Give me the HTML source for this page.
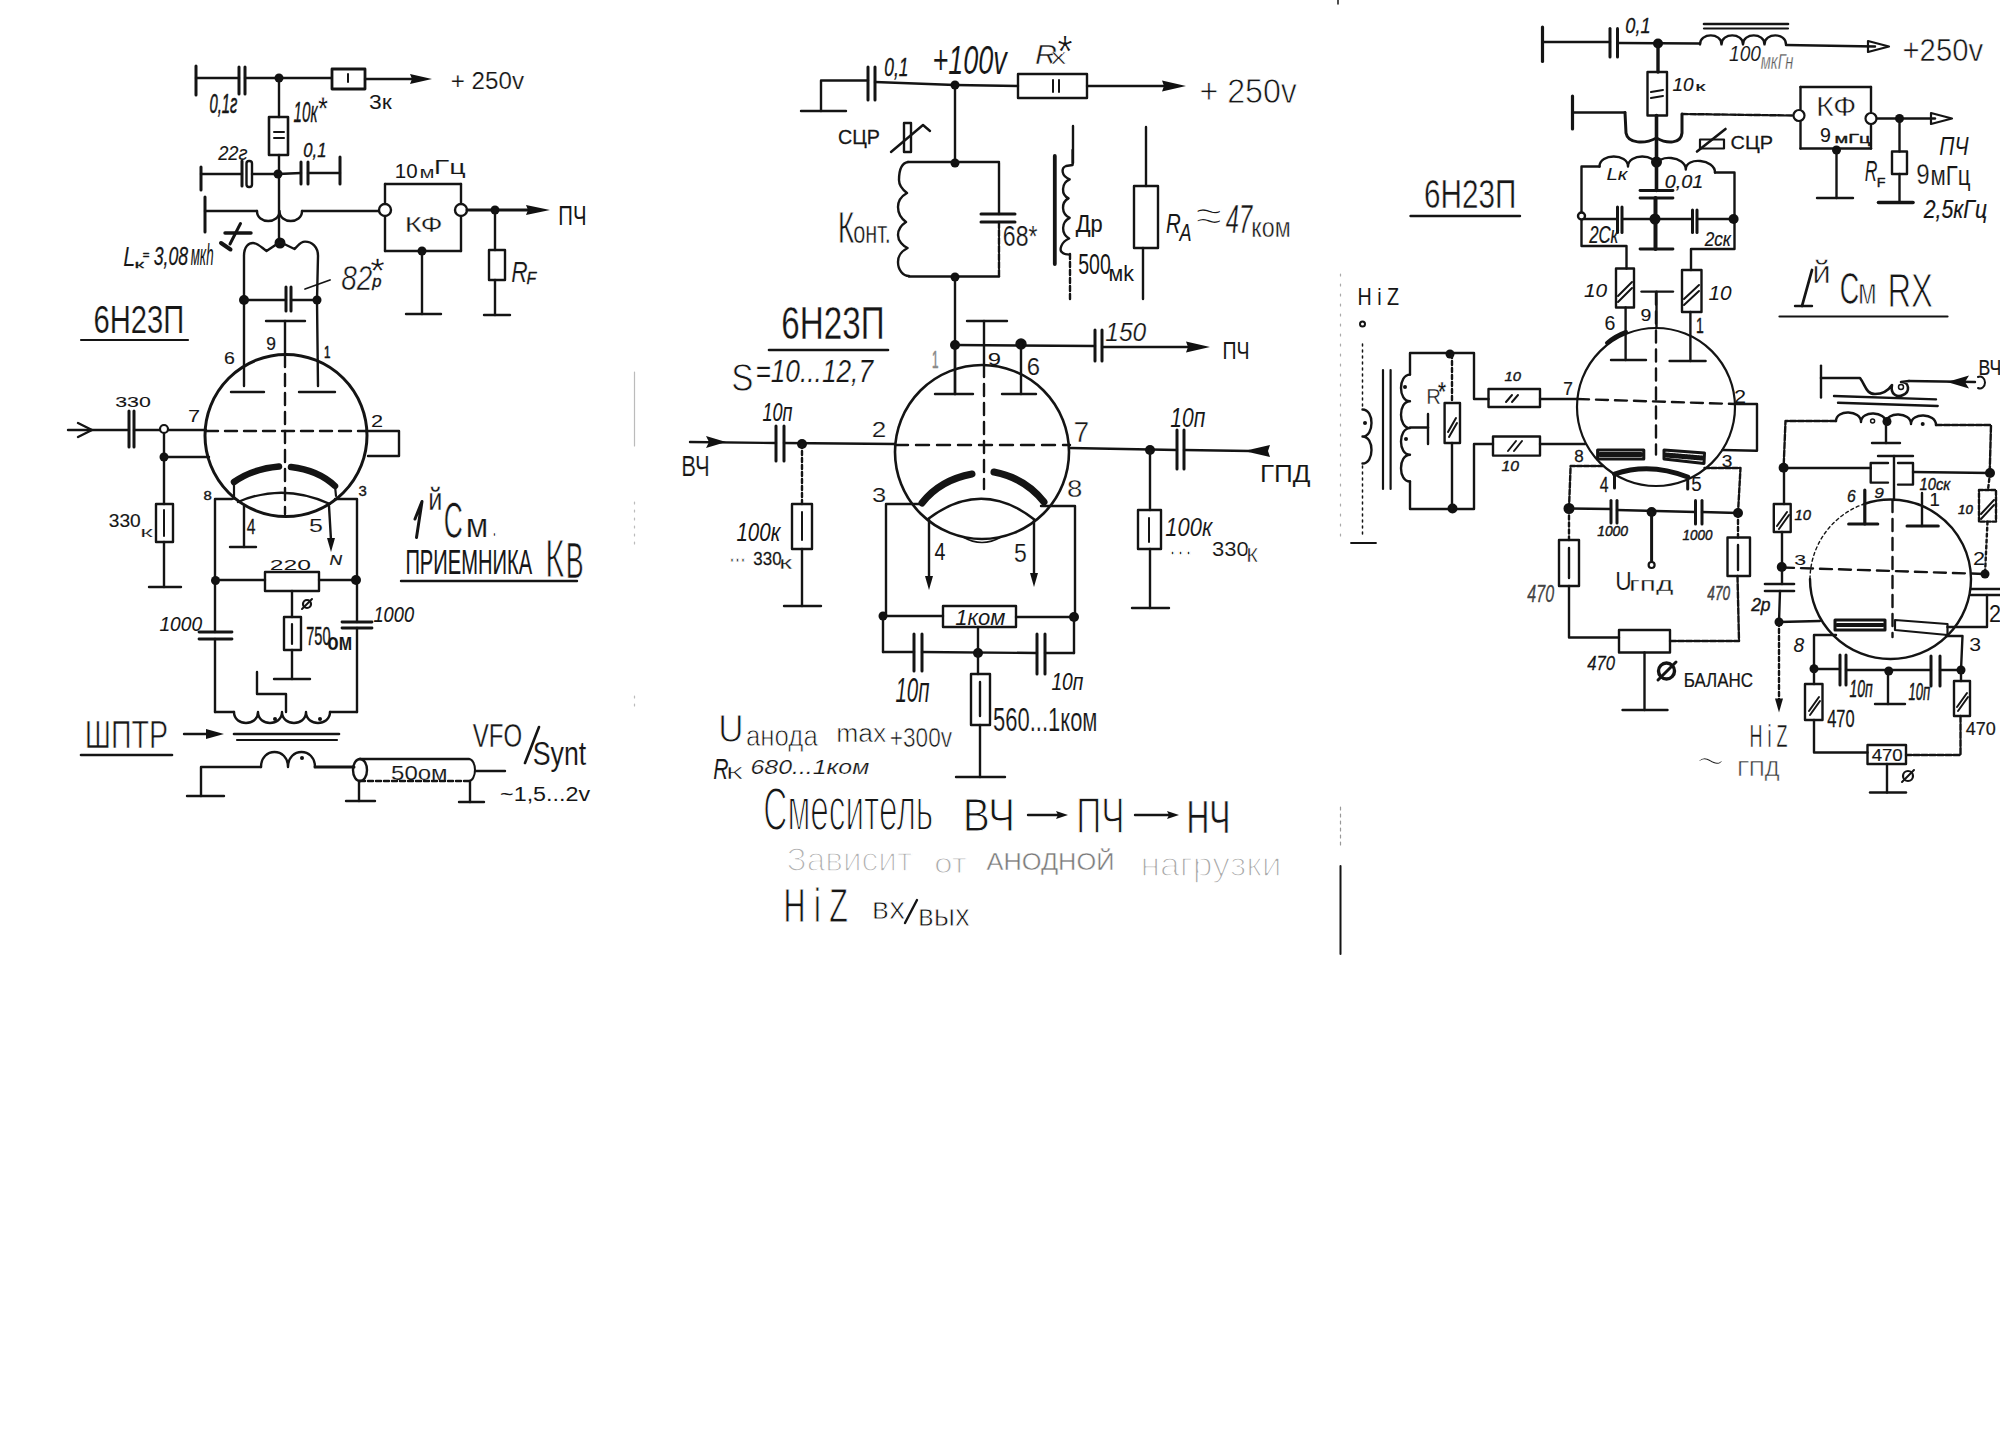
<!DOCTYPE html>
<html><head><meta charset="utf-8"><style>
html,body{margin:0;padding:0;background:#fff;overflow:hidden;width:2000px;height:1453px;}
svg{display:block;}
text{font-family:"Liberation Sans",sans-serif;fill:#161616;stroke:none;}
</style></head><body>
<svg width="2000" height="1453" viewBox="0 0 2000 1453">
<rect x="0" y="0" width="2000" height="1453" fill="#fff"/>
<g stroke="#141414" stroke-width="2.4" stroke-linecap="round" stroke-linejoin="round" fill="none">
<line x1="196" y1="66" x2="196" y2="95" stroke-width="3"/>
<line x1="196" y1="78" x2="239" y2="78"/>
<line x1="239" y1="67" x2="239" y2="94" stroke-width="3"/>
<line x1="245" y1="67" x2="245" y2="94" stroke-width="3"/>
<line x1="245" y1="78" x2="331" y2="78"/>
<circle cx="279" cy="78" r="4.5" fill="#111" stroke="none"/>
<rect x="332" y="69" width="33" height="20" fill="none" stroke-width="2.8"/>
<line x1="348" y1="74" x2="348" y2="82" stroke-width="2"/>
<line x1="365" y1="79" x2="415" y2="79"/>
<polygon points="410,74 432,79 410,84 412,79" fill="#111" stroke="none"/>
<text x="0" y="0" transform="matrix(0.2416 0 0 0.2324 450.79 89.27)" style="font-size:100px;fill:#161616;stroke:#fff;stroke-width:0.86;paint-order:fill;">+ 250v</text>
<text x="0" y="0" transform="matrix(0.1484 0 0 0.2805 209.41 112.63)" style="font-size:100px;font-style:italic;fill:#161616;stroke:#161616;stroke-width:2.15;">0,1г</text>
<text x="0" y="0" transform="matrix(0.2292 0 0 0.1972 369.08 108.80)" style="font-size:100px;fill:#161616;stroke:#fff;stroke-width:0.22;paint-order:fill;">3к</text>
<text x="0" y="0" transform="matrix(0.1519 0 0 0.2958 293.54 121.70)" style="font-size:100px;font-style:italic;fill:#161616;stroke:#161616;stroke-width:1.29;">10к</text>
<text x="0" y="0" transform="matrix(0.2564 0 0 0.3243 318.00 120.38)" style="font-size:100px;font-weight:bold;fill:#161616;stroke:#fff;stroke-width:2.92;paint-order:fill;">*</text>
<line x1="279" y1="78" x2="279" y2="117"/>
<rect x="269" y="117" width="19" height="38" fill="none" stroke-width="2.6"/>
<line x1="274" y1="132" x2="284" y2="132" stroke-width="2"/>
<line x1="274" y1="138" x2="284" y2="138" stroke-width="2"/>
<line x1="279" y1="155" x2="279" y2="242"/>
<circle cx="278" cy="174" r="4.5" fill="#111" stroke="none"/>
<line x1="201" y1="167" x2="201" y2="190" stroke-width="3"/>
<line x1="201" y1="174" x2="242" y2="174"/>
<line x1="242" y1="161" x2="242" y2="186" stroke-width="3"/>
<rect x="246.5" y="161" width="5.5" height="26" rx="2.5" fill="none" stroke-width="2.4"/>
<line x1="252" y1="174" x2="278" y2="174"/>
<line x1="278" y1="174" x2="301" y2="173"/>
<line x1="301" y1="162" x2="301" y2="184" stroke-width="3"/>
<line x1="308" y1="162" x2="308" y2="184" stroke-width="3"/>
<line x1="308" y1="173" x2="340" y2="173"/>
<line x1="340" y1="157" x2="340" y2="184" stroke-width="3"/>
<text x="0" y="0" transform="matrix(0.1824 0 0 0.2113 218.18 159.79)" style="font-size:100px;font-style:italic;fill:#161616;stroke:#161616;stroke-width:0.76;">22г</text>
<text x="0" y="0" transform="matrix(0.1667 0 0 0.2073 303.33 156.51)" style="font-size:100px;font-style:italic;fill:#161616;stroke:#161616;stroke-width:1.81;">0,1</text>
<line x1="205" y1="197" x2="205" y2="232" stroke-width="3"/>
<line x1="205" y1="211" x2="257" y2="211"/>
<path d="M257,211 C257.0,224.3 279.5,224.3 279.5,211.0 C279.5,224.3 302.0,224.3 302.0,211.0" fill="none"/>
<line x1="302" y1="211" x2="379" y2="211"/>
<line x1="385" y1="184" x2="461" y2="184"/>
<line x1="385" y1="184" x2="385" y2="204"/>
<line x1="385" y1="216" x2="385" y2="251"/>
<line x1="461" y1="184" x2="461" y2="204"/>
<line x1="461" y1="216" x2="461" y2="251"/>
<line x1="385" y1="251" x2="461" y2="251"/>
<circle cx="385" cy="210" r="6" fill="#fff"/>
<circle cx="461" cy="210" r="6" fill="#fff"/>
<text x="0" y="0" transform="matrix(0.2906 0 0 0.2174 404.68 232.00)" style="font-size:100px;fill:#161616;stroke:#fff;stroke-width:1.44;paint-order:fill;">КФ</text>
<text x="0" y="0" transform="matrix(0.2050 0 0 0.1972 394.86 177.80)" style="font-size:100px;fill:#161616;stroke:#161616;stroke-width:0.30;">10</text>
<text x="0" y="0" transform="matrix(0.2182 0 0 0.1698 419.47 178.00)" style="font-size:100px;fill:#161616;stroke:#fff;stroke-width:0.44;paint-order:fill;">м</text>
<text x="0" y="0" transform="matrix(0.2871 0 0 0.2079 433.70 174.34)" style="font-size:100px;fill:#161616;stroke:#fff;stroke-width:0.57;paint-order:fill;">Гц</text>
<circle cx="422" cy="251" r="4.5" fill="#111" stroke="none"/>
<line x1="422" y1="251" x2="422" y2="314"/>
<line x1="406" y1="314" x2="441" y2="314"/>
<line x1="467" y1="210" x2="530" y2="210" stroke-width="3"/>
<circle cx="495" cy="210" r="4.5" fill="#111" stroke="none"/>
<polygon points="526,205 550,210 526,215 528,210" fill="#111" stroke="none"/>
<text x="0" y="0" transform="matrix(0.2033 0 0 0.2754 558.37 225.00)" style="font-size:100px;fill:#161616;">ПЧ</text>
<line x1="495" y1="210" x2="495" y2="250"/>
<rect x="489" y="250" width="16" height="30" fill="none"/>
<line x1="495" y1="280" x2="495" y2="315"/>
<line x1="484" y1="315" x2="510" y2="315"/>
<text x="0" y="0" transform="matrix(0.2273 0 0 0.2899 511.32 282.00)" style="font-size:100px;font-style:italic;fill:#161616;stroke:#fff;stroke-width:0.73;paint-order:fill;">R</text>
<text x="0" y="0" transform="matrix(0.1587 0 0 0.1739 526.52 284.00)" style="font-size:100px;font-style:italic;fill:#161616;stroke:#161616;stroke-width:1.77;">F</text>
<circle cx="280" cy="243" r="5.5" fill="#111" stroke="none"/>
<path d="M244,300 L244,256 C244,246 249,243 253,243 C258,243 262,248 266.5,251 L280,242 L294.5,249 C298,246 300,241.6 305,241.6 C312,241.6 318,247 318,256 L317,300" fill="none"/>
<line x1="244" y1="300" x2="244" y2="386"/>
<line x1="317" y1="300" x2="318" y2="386"/>
<circle cx="244" cy="300" r="5" fill="#111" stroke="none"/>
<circle cx="317" cy="300" r="4.5" fill="#111" stroke="none"/>
<line x1="244" y1="300" x2="286" y2="300"/>
<line x1="286" y1="287" x2="286" y2="311" stroke-width="3"/>
<line x1="291" y1="287" x2="291" y2="311" stroke-width="3"/>
<line x1="291" y1="300" x2="317" y2="300"/>
<line x1="305" y1="289" x2="330" y2="280" stroke-width="1.8"/>
<text x="0" y="0" transform="matrix(0.2804 0 0 0.3521 341.16 289.65)" style="font-size:100px;font-style:italic;fill:#161616;stroke:#fff;stroke-width:1.58;paint-order:fill;">82</text>
<text x="0" y="0" transform="matrix(0.1667 0 0 0.1600 372.33 286.64)" style="font-size:100px;font-style:italic;fill:#161616;stroke:#161616;stroke-width:1.97;">р</text>
<text x="0" y="0" transform="matrix(0.3846 0 0 0.3784 370.00 284.11)" style="font-size:100px;font-weight:bold;fill:#161616;stroke:#fff;stroke-width:4.24;paint-order:fill;">*</text>
<text x="0" y="0" transform="matrix(0.2174 0 0 0.2754 123.35 266.00)" style="font-size:100px;font-style:italic;fill:#161616;stroke:#fff;stroke-width:0.31;paint-order:fill;">L</text>
<text x="0" y="0" transform="matrix(0.2162 0 0 0.1132 134.49 268.00)" style="font-size:100px;fill:#161616;stroke:#161616;stroke-width:2.21;">к</text>
<text x="0" y="0" transform="matrix(0.1143 0 0 0.1250 142.83 259.12)" style="font-size:100px;fill:#161616;stroke:#161616;stroke-width:4.09;">=</text>
<text x="0" y="0" transform="matrix(0.1771 0 0 0.2561 153.65 264.93)" style="font-size:100px;font-style:italic;fill:#161616;stroke:#161616;stroke-width:1.03;">3,08</text>
<text x="0" y="0" transform="matrix(0.1333 0 0 0.2917 190.73 265.00)" style="font-size:100px;font-style:italic;fill:#161616;stroke:#161616;stroke-width:0.33;">мкh</text>
<line x1="225" y1="233" x2="251" y2="233" stroke-width="3.4"/>
<line x1="230" y1="244" x2="240.5" y2="223.5" stroke-width="3"/>
<line x1="221" y1="243" x2="230.5" y2="249.5" stroke-width="4"/>
<line x1="231" y1="392" x2="264" y2="392"/>
<line x1="299" y1="392" x2="335" y2="392"/>
<line x1="266" y1="321" x2="305" y2="321"/>
<line x1="285" y1="321" x2="285" y2="355"/>
<text x="0" y="0" transform="matrix(0.1739 0 0 0.1831 266.13 349.82)" style="font-size:100px;fill:#161616;stroke:#161616;stroke-width:1.26;">9</text>
<text x="0" y="0" transform="matrix(0.1957 0 0 0.1690 224.02 363.83)" style="font-size:100px;fill:#161616;stroke:#161616;stroke-width:0.82;">6</text>
<text x="0" y="0" transform="matrix(0.1163 0 0 0.1594 324.07 358.00)" style="font-size:100px;fill:#161616;stroke:#161616;stroke-width:3.88;">1</text>
<circle cx="286" cy="435.5" r="81" fill="none" stroke-width="3"/>
<line x1="285" y1="355" x2="285" y2="514" stroke-dasharray="12,7"/>
<line x1="206" y1="431" x2="366" y2="431" stroke-dasharray="12,7"/>
<text x="0" y="0" transform="matrix(0.2919 0 0 0.3803 93.54 332.62)" style="font-size:100px;fill:#161616;stroke:#fff;stroke-width:0.60;paint-order:fill;">6Н23П</text>
<line x1="81" y1="340" x2="188" y2="340" stroke-width="2.2"/>
<text x="0" y="0" transform="matrix(0.2174 0 0 0.1739 187.91 422.00)" style="font-size:100px;fill:#161616;">7</text>
<text x="0" y="0" transform="matrix(0.2174 0 0 0.1714 370.91 427.00)" style="font-size:100px;fill:#161616;stroke:#161616;stroke-width:0.23;">2</text>
<line x1="68" y1="430" x2="129" y2="430"/>
<polyline points="78,423 92,430 78,437" fill="none" stroke-width="2.4"/>
<line x1="129" y1="411" x2="129" y2="447" stroke-width="3"/>
<line x1="134" y1="411" x2="134" y2="447" stroke-width="3"/>
<line x1="134" y1="430" x2="206" y2="430"/>
<circle cx="164" cy="429" r="4" fill="#fff" stroke-width="2.2"/>
<text x="0" y="0" transform="matrix(0.2138 0 0 0.1549 115.14 406.85)" style="font-size:100px;fill:#161616;stroke:#161616;stroke-width:0.56;">330</text>
<line x1="164" y1="433" x2="164" y2="504"/>
<circle cx="164" cy="457" r="4.5" fill="#111" stroke="none"/>
<line x1="164" y1="457" x2="209" y2="457"/>
<rect x="156" y="504" width="17" height="38" fill="none"/>
<line x1="164" y1="510" x2="164" y2="536" stroke-width="2"/>
<line x1="164" y1="542" x2="164" y2="587"/>
<line x1="149" y1="587" x2="181" y2="587"/>
<text x="0" y="0" transform="matrix(0.1918 0 0 0.1775 108.73 527.42)" style="font-size:100px;fill:#161616;stroke:#161616;stroke-width:0.82;">330</text>
<text x="0" y="0" transform="matrix(0.2892 0 0 0.1528 139.98 536.60)" style="font-size:100px;fill:#161616;stroke:#fff;stroke-width:1.38;paint-order:fill;">к</text>
<polyline points="366,431 399,431 399,456 368,456" fill="none"/>
<path d="M234,482 Q252,469 279,466.5" fill="none" stroke-width="6.5"/>
<path d="M291,467 Q318,470 335,486" fill="none" stroke-width="6.5"/>
<line x1="234" y1="482" x2="234" y2="499" stroke-width="2.2"/>
<line x1="335" y1="486" x2="336" y2="496" stroke-width="2.2"/>
<path d="M238,502 Q283,482.5 330,504" fill="none" stroke-width="2.4"/>
<polyline points="232,499 215,499 215,632" fill="none"/>
<text x="0" y="0" transform="matrix(0.1489 0 0 0.1268 203.40 499.87)" style="font-size:100px;fill:#161616;stroke:#161616;stroke-width:3.11;">8</text>
<text x="0" y="0" transform="matrix(0.1489 0 0 0.1408 358.40 495.86)" style="font-size:100px;fill:#161616;stroke:#161616;stroke-width:2.78;">3</text>
<polyline points="335,499 357,499 357,622" fill="none"/>
<line x1="244" y1="506" x2="244" y2="547"/>
<line x1="230" y1="547" x2="256" y2="547"/>
<text x="0" y="0" transform="matrix(0.1569 0 0 0.2174 246.69 534.00)" style="font-size:100px;fill:#161616;stroke:#161616;stroke-width:1.40;">4</text>
<line x1="329" y1="506" x2="331" y2="540"/>
<polygon points="327,538 331,552 335,538" fill="#111" stroke="none"/>
<text x="0" y="0" transform="matrix(0.2500 0 0 0.1857 309.00 531.81)" style="font-size:100px;fill:#161616;stroke:#fff;stroke-width:0.55;paint-order:fill;">5</text>
<text x="0" y="0" transform="matrix(0.1739 0 0 0.1449 329.48 565.00)" style="font-size:100px;font-style:italic;fill:#161616;stroke:#161616;stroke-width:1.72;">N</text>
<circle cx="215.5" cy="580.5" r="4.5" fill="#111" stroke="none"/>
<line x1="215" y1="580" x2="265" y2="580"/>
<rect x="265" y="572" width="54" height="19" fill="none"/>
<line x1="319" y1="580" x2="356" y2="580"/>
<circle cx="356" cy="580" r="5" fill="#111" stroke="none"/>
<text x="0" y="0" transform="matrix(0.2468 0 0 0.1549 269.77 569.85)" style="font-size:100px;fill:#161616;">220</text>
<line x1="292" y1="591" x2="292" y2="617"/>
<rect x="284" y="617" width="17" height="33" fill="none"/>
<line x1="292" y1="624" x2="292" y2="644" stroke-width="2.2"/>
<line x1="292" y1="650" x2="292" y2="679"/>
<line x1="274" y1="679" x2="310" y2="679"/>
<circle cx="307" cy="604" r="4" fill="none" stroke-width="2.2"/>
<line x1="302" y1="609" x2="312" y2="599" stroke-width="2"/>
<text x="0" y="0" transform="matrix(0.1456 0 0 0.2535 306.27 644.75)" style="font-size:100px;fill:#161616;stroke:#161616;stroke-width:1.68;">750</text>
<text x="0" y="0" transform="matrix(0.1870 0 0 0.2364 327.25 649.76)" style="font-size:100px;font-weight:bold;fill:#161616;stroke:#fff;stroke-width:0.33;paint-order:fill;">ом</text>
<line x1="199" y1="632" x2="232" y2="632" stroke-width="2.8"/>
<line x1="199" y1="639" x2="232" y2="639" stroke-width="2.8"/>
<line x1="342" y1="622" x2="372" y2="622" stroke-width="2.8"/>
<line x1="342" y1="628" x2="372" y2="628" stroke-width="2.8"/>
<line x1="215" y1="639" x2="215" y2="712"/>
<line x1="357" y1="628" x2="357" y2="712"/>
<text x="0" y="0" transform="matrix(0.1918 0 0 0.2113 159.42 630.79)" style="font-size:100px;font-style:italic;fill:#161616;stroke:#161616;stroke-width:0.51;">1000</text>
<text x="0" y="0" transform="matrix(0.1826 0 0 0.2254 373.45 621.77)" style="font-size:100px;font-style:italic;fill:#161616;stroke:#161616;stroke-width:0.66;">1000</text>
<line x1="215" y1="712" x2="234" y2="712"/>
<path d="M234,712 C234.0,726.6 258.0,726.6 258.0,712.0 C258.0,726.6 282.0,726.6 282.0,712.0 C282.0,726.6 306.0,726.6 306.0,712.0 C306.0,726.6 330.0,726.6 330.0,712.0" fill="none"/>
<line x1="330" y1="712" x2="357" y2="712"/>
<circle cx="275" cy="719" r="2" fill="#111" stroke="none"/>
<circle cx="320" cy="719" r="2" fill="#111" stroke="none"/>
<polyline points="286,712 286,694 257,694 257,672" fill="none"/>
<line x1="234" y1="734" x2="339" y2="734" stroke-width="2.6"/>
<line x1="237" y1="740" x2="337" y2="740" stroke-width="2.2"/>
<path d="M261,767 C261.0,747.0 288.0,747.0 288.0,767.0 C288.0,747.0 315.0,747.0 315.0,767.0" fill="none"/>
<circle cx="302" cy="758" r="2" fill="#111" stroke="none"/>
<polyline points="261,767 201,767 201,796" fill="none"/>
<line x1="187" y1="796" x2="224" y2="796"/>
<line x1="315" y1="767" x2="354" y2="767" stroke-width="3"/>
<path d="M360,759 A7,11 0 0,0 360,781" fill="none" stroke-width="2.4"/>
<path d="M360,759 A7,11 0 0,1 360,781" fill="none" stroke-width="2.4"/>
<line x1="360" y1="759" x2="469" y2="759"/>
<line x1="360" y1="781" x2="469" y2="781" stroke-dasharray="5,3"/>
<path d="M469,759 A6,11 0 0,1 469,781" fill="none" stroke-width="2"/>
<line x1="475" y1="771" x2="505" y2="771"/>
<line x1="359" y1="781" x2="359" y2="801"/>
<line x1="346" y1="801" x2="375" y2="801"/>
<line x1="470" y1="781" x2="470" y2="802"/>
<line x1="459" y1="802" x2="484" y2="802"/>
<text x="0" y="0" transform="matrix(0.2400 0 0 0.2113 391.04 779.79)" style="font-size:100px;fill:#161616;stroke:#fff;stroke-width:0.53;paint-order:fill;">50ом</text>
<text x="0" y="0" transform="matrix(0.2867 0 0 0.3913 84.71 748.00)" style="font-size:100px;fill:#161616;stroke:#fff;stroke-width:1.79;paint-order:fill;">ШПТР</text>
<line x1="81" y1="755" x2="172" y2="755" stroke-width="2.6"/>
<line x1="184" y1="734" x2="214" y2="734"/>
<polygon points="206,729 224,734 206,739" fill="#111" stroke="none"/>
<polyline points="415,519 422,501.5 416.5,537.4" fill="none" stroke-width="3"/>
<text x="0" y="0" transform="matrix(0.2524 0 0 0.3067 428.23 509.70)" style="font-size:100px;fill:#161616;stroke:#fff;stroke-width:0.91;paint-order:fill;">й</text>
<text x="0" y="0" transform="matrix(0.2635 0 0 0.4986 443.68 537.90)" style="font-size:100px;fill:#161616;stroke:#fff;stroke-width:1.32;paint-order:fill;">С</text>
<text x="0" y="0" transform="matrix(0.3273 0 0 0.3283 465.71 537.40)" style="font-size:100px;fill:#161616;stroke:#fff;stroke-width:0.76;paint-order:fill;">м</text>
<text x="0" y="0" transform="matrix(0.3000 0 0 0.4545 490.30 537.00)" style="font-size:100px;fill:#161616;stroke:#fff;stroke-width:5.17;paint-order:fill;">.</text>
<text x="0" y="0" transform="matrix(0.2013 0 0 0.3565 405.39 574.30)" style="font-size:100px;fill:#161616;stroke:#161616;stroke-width:0.41;">ПРИЕМНИКА</text>
<text x="0" y="0" transform="matrix(0.3327 0 0 0.5333 545.04 577.30)" style="font-size:100px;fill:#161616;stroke:#fff;stroke-width:2.28;paint-order:fill;">К</text>
<text x="0" y="0" transform="matrix(0.2685 0 0 0.4913 565.85 578.40)" style="font-size:100px;fill:#161616;stroke:#fff;stroke-width:1.52;paint-order:fill;">В</text>
<line x1="401" y1="581" x2="577" y2="581" stroke-width="2.4"/>
<text x="0" y="0" transform="matrix(0.2400 0 0 0.3239 472.76 746.68)" style="font-size:100px;fill:#161616;stroke:#fff;stroke-width:0.93;paint-order:fill;">VFO</text>
<line x1="525" y1="763" x2="539" y2="727" stroke-width="2.6"/>
<text x="0" y="0" transform="matrix(0.2680 0 0 0.3407 532.66 764.85)" style="font-size:100px;fill:#161616;stroke:#fff;stroke-width:0.38;paint-order:fill;">Synt</text>
<text x="0" y="0" transform="matrix(0.2330 0 0 0.2073 500.07 800.51)" style="font-size:100px;fill:#161616;">~1,5...2v</text>
<line x1="801" y1="111" x2="846" y2="111"/>
<polyline points="821,111 821,80.5 868,80.5" fill="none"/>
<line x1="868" y1="67" x2="868" y2="100" stroke-width="3"/>
<line x1="875" y1="67" x2="875" y2="100" stroke-width="3"/>
<line x1="875" y1="82" x2="955" y2="85"/>
<circle cx="955" cy="85" r="4.5" fill="#111" stroke="none"/>
<line x1="955" y1="85" x2="1018" y2="86"/>
<rect x="1018" y="74" width="69" height="24" fill="none"/>
<line x1="1053" y1="80" x2="1053" y2="92" stroke-width="2"/>
<line x1="1059" y1="80" x2="1059" y2="92" stroke-width="2"/>
<line x1="1087" y1="86" x2="1170" y2="86"/>
<polygon points="1162,80.5 1186,86 1162,91.5 1164,86" fill="#111" stroke="none"/>
<text x="0" y="0" transform="matrix(0.3221 0 0 0.3521 1199.39 102.65)" style="font-size:100px;fill:#161616;stroke:#fff;stroke-width:2.17;paint-order:fill;">+ 250v</text>
<text x="0" y="0" transform="matrix(0.2701 0 0 0.4085 932.38 73.59)" style="font-size:100px;font-style:italic;fill:#161616;stroke:#fff;stroke-width:0.27;paint-order:fill;">+100v</text>
<text x="0" y="0" transform="matrix(0.1746 0 0 0.2561 884.30 75.93)" style="font-size:100px;font-style:italic;fill:#161616;stroke:#161616;stroke-width:1.32;">0,1</text>
<text x="0" y="0" transform="matrix(0.3030 0 0 0.2681 1035.09 64.00)" style="font-size:100px;font-style:italic;fill:#161616;stroke:#fff;stroke-width:1.82;paint-order:fill;">R</text>
<text x="0" y="0" transform="matrix(0.3125 0 0 0.2264 1050.69 64.00)" style="font-size:100px;fill:#161616;stroke:#fff;stroke-width:2.38;paint-order:fill;">x</text>
<text x="0" y="0" transform="matrix(0.4103 0 0 0.4865 1057.00 67.57)" style="font-size:100px;font-weight:bold;fill:#161616;stroke:#fff;stroke-width:4.58;paint-order:fill;">*</text>
<line x1="955" y1="85" x2="955" y2="163"/>
<circle cx="955" cy="163" r="4.5" fill="#111" stroke="none"/>
<text x="0" y="0" transform="matrix(0.1970 0 0 0.2111 838.01 143.78)" style="font-size:100px;fill:#161616;stroke:#161616;stroke-width:1.27;">СЦР</text>
<rect x="904" y="123" width="7" height="29" fill="none" stroke-width="2.4"/>
<path d="M891,152 L923,125 L930,131" fill="none" stroke-width="2.4"/>
<line x1="908" y1="162" x2="999" y2="162"/>
<path d="M908,162 C902,163 899,170 899,180 C899,186 903,190 907,193 C900,197 898,202 898,207 C898,214 902,219 906,222 C900,226 898,230 898,235 C898,241 903,246 907.6,248 C900,252 898,256 898,262 C898,270 903,276 909,276" fill="none"/>
<line x1="909" y1="276.5" x2="999" y2="276.5"/>
<line x1="999" y1="163" x2="999" y2="214"/>
<line x1="981" y1="214" x2="1015" y2="214" stroke-width="3"/>
<line x1="981" y1="222" x2="1015" y2="222" stroke-width="3"/>
<line x1="999" y1="222" x2="999" y2="276" stroke-dasharray="6,2"/>
<text x="0" y="0" transform="matrix(0.2308 0 0 0.2958 1002.85 245.70)" style="font-size:100px;fill:#161616;stroke:#fff;stroke-width:0.71;paint-order:fill;">68*</text>
<text x="0" y="0" transform="matrix(0.2857 0 0 0.4348 837.71 243.00)" style="font-size:100px;fill:#161616;stroke:#fff;stroke-width:1.78;paint-order:fill;">К</text>
<text x="0" y="0" transform="matrix(0.2174 0 0 0.3091 853.13 242.69)" style="font-size:100px;fill:#161616;stroke:#fff;stroke-width:1.33;paint-order:fill;">онт.</text>
<circle cx="955" cy="277" r="4.5" fill="#111" stroke="none"/>
<line x1="955" y1="277" x2="955" y2="394"/>
<line x1="1054.8" y1="156" x2="1054.8" y2="264" stroke-width="3.8"/>
<line x1="1073" y1="126" x2="1073" y2="163"/>
<path d="M1072.6,150 L1072.6,165 L1066,166 C1061,168 1061,176 1069.7,179.3 C1061,183 1061,195 1068.6,198.3 C1061,202 1061,214 1069.7,217.8 C1061,222 1061,234 1069.2,238.5 C1061,242 1059,250 1062,252.3 C1064,254.6 1067,254.6 1069.7,254.6" fill="none"/>
<line x1="1070" y1="254" x2="1070" y2="301" stroke-dasharray="5,3"/>
<text x="0" y="0" transform="matrix(0.2185 0 0 0.2444 1075.78 231.87)" style="font-size:100px;fill:#161616;stroke:#161616;stroke-width:0.61;">Др</text>
<text x="0" y="0" transform="matrix(0.1950 0 0 0.2958 1078.22 273.70)" style="font-size:100px;fill:#161616;">500</text>
<text x="0" y="0" transform="matrix(0.2143 0 0 0.2222 1108.50 281.00)" style="font-size:100px;fill:#161616;">мk</text>
<line x1="1146" y1="127" x2="1146" y2="186"/>
<rect x="1134" y="186" width="24" height="62" fill="none"/>
<line x1="1143" y1="248" x2="1143" y2="299"/>
<text x="0" y="0" transform="matrix(0.2045 0 0 0.2696 1165.89 232.60)" style="font-size:100px;font-style:italic;fill:#161616;">R</text>
<text x="0" y="0" transform="matrix(0.1803 0 0 0.2464 1179.60 241.00)" style="font-size:100px;font-style:italic;fill:#161616;stroke:#161616;stroke-width:0.50;">A</text>
<text x="0" y="0" transform="matrix(0.4898 0 0 0.4545 1195.53 231.27)" style="font-size:100px;fill:#161616;stroke:#fff;stroke-width:3.79;paint-order:fill;">≈</text>
<text x="0" y="0" transform="matrix(0.2368 0 0 0.4000 1225.76 232.60)" style="font-size:100px;font-style:italic;fill:#161616;stroke:#fff;stroke-width:1.04;paint-order:fill;">47</text>
<text x="0" y="0" transform="matrix(0.2323 0 0 0.2855 1251.37 237.41)" style="font-size:100px;fill:#161616;stroke:#fff;stroke-width:1.51;paint-order:fill;">ком</text>
<line x1="967" y1="321" x2="1007" y2="321"/>
<line x1="984" y1="321" x2="984" y2="365"/>
<circle cx="955" cy="345" r="5" fill="#111" stroke="none"/>
<line x1="955" y1="345" x2="1095" y2="346"/>
<circle cx="1021" cy="344" r="4.5" fill="#fff"/>
<circle cx="1021" cy="344" r="4" fill="#111" stroke="none"/>
<line x1="1095" y1="330" x2="1095" y2="361" stroke-width="3"/>
<line x1="1102" y1="330" x2="1102" y2="361" stroke-width="3"/>
<line x1="1102" y1="347" x2="1190" y2="347"/>
<polygon points="1186,341.5 1210,347 1186,352.5 1188,347" fill="#111" stroke="none"/>
<text x="0" y="0" transform="matrix(0.2454 0 0 0.2535 1105.26 340.75)" style="font-size:100px;font-style:italic;fill:#161616;stroke:#fff;stroke-width:0.84;paint-order:fill;">150</text>
<text x="0" y="0" transform="matrix(0.1951 0 0 0.2464 1222.44 359.00)" style="font-size:100px;fill:#161616;">ПЧ</text>
<line x1="955" y1="345" x2="955" y2="394"/>
<line x1="935" y1="394" x2="973" y2="394"/>
<line x1="1021" y1="344" x2="1021" y2="394"/>
<line x1="1002" y1="394" x2="1036" y2="394"/>
<text x="0" y="0" transform="matrix(0.1163 0 0 0.2319 932.07 368.00)" style="font-size:100px;fill:#888;stroke:#888;stroke-width:3.00;">1</text>
<text x="0" y="0" transform="matrix(0.2391 0 0 0.1690 987.80 364.83)" style="font-size:100px;fill:#161616;">9</text>
<text x="0" y="0" transform="matrix(0.2391 0 0 0.2394 1026.80 374.76)" style="font-size:100px;fill:#161616;stroke:#fff;stroke-width:0.67;paint-order:fill;">6</text>
<text x="0" y="0" transform="matrix(0.3322 0 0 0.4648 781.34 338.54)" style="font-size:100px;fill:#161616;stroke:#fff;stroke-width:0.65;paint-order:fill;">6Н23П</text>
<line x1="769" y1="350" x2="888" y2="350" stroke-width="2.6"/>
<text x="0" y="0" transform="matrix(0.3333 0 0 0.3859 731.33 390.61)" style="font-size:100px;fill:#161616;stroke:#fff;stroke-width:2.24;paint-order:fill;">S</text>
<text x="0" y="0" transform="matrix(0.2629 0 0 0.3134 755.42 381.94)" style="font-size:100px;font-style:italic;fill:#161616;stroke:#fff;stroke-width:0.74;paint-order:fill;">=10...12,7</text>
<circle cx="982" cy="452" r="87" fill="none" stroke-width="2.6"/>
<line x1="984" y1="365" x2="984" y2="489" stroke-dasharray="12,7"/>
<line x1="895" y1="445" x2="1070" y2="445" stroke-dasharray="13,8"/>
<line x1="690" y1="442" x2="776" y2="443"/>
<polygon points="706,436 726,442 706,448 709,442" fill="#111" stroke="none"/>
<line x1="776" y1="426" x2="776" y2="461" stroke-width="3"/>
<line x1="784" y1="426" x2="784" y2="461" stroke-width="3"/>
<line x1="784" y1="443" x2="895" y2="444"/>
<circle cx="802" cy="444" r="5" fill="#111" stroke="none"/>
<text x="0" y="0" transform="matrix(0.1801 0 0 0.2535 762.46 420.75)" style="font-size:100px;font-style:italic;fill:#161616;stroke:#161616;stroke-width:0.57;">10п</text>
<text x="0" y="0" transform="matrix(0.2609 0 0 0.2286 871.70 437.00)" style="font-size:100px;fill:#161616;stroke:#fff;stroke-width:1.03;paint-order:fill;">2</text>
<text x="0" y="0" transform="matrix(0.2212 0 0 0.2899 681.23 476.00)" style="font-size:100px;fill:#161616;stroke:#fff;stroke-width:0.61;paint-order:fill;">ВЧ</text>
<line x1="802" y1="444" x2="802" y2="504" stroke-dasharray="4,3"/>
<rect x="792" y="504" width="20" height="45" fill="none"/>
<line x1="802" y1="512" x2="802" y2="540" stroke-width="2"/>
<line x1="802" y1="549" x2="802" y2="606"/>
<line x1="784" y1="606" x2="821" y2="606"/>
<text x="0" y="0" transform="matrix(0.2056 0 0 0.2535 736.38 540.75)" style="font-size:100px;font-style:italic;fill:#161616;">100к</text>
<text x="0" y="0" transform="matrix(0.1970 0 0 0.3636 729.23 562.00)" style="font-size:100px;fill:#161616;stroke:#fff;stroke-width:3.32;paint-order:fill;">...</text>
<text x="0" y="0" transform="matrix(0.1698 0 0 0.1831 753.32 564.82)" style="font-size:100px;fill:#161616;stroke:#161616;stroke-width:1.48;">330</text>
<text x="0" y="0" transform="matrix(0.2973 0 0 0.1887 778.92 568.50)" style="font-size:100px;fill:#161616;stroke:#fff;stroke-width:1.70;paint-order:fill;">к</text>
<line x1="1070" y1="448" x2="1177" y2="450"/>
<circle cx="1150" cy="450" r="5" fill="#111" stroke="none"/>
<line x1="1177" y1="430" x2="1177" y2="469" stroke-width="3"/>
<line x1="1184" y1="430" x2="1184" y2="469" stroke-width="3"/>
<line x1="1184" y1="450" x2="1250" y2="451"/>
<polygon points="1270,445 1244,451 1270,457 1268,451" fill="#111" stroke="none"/>
<text x="0" y="0" transform="matrix(0.2112 0 0 0.2676 1170.37 426.73)" style="font-size:100px;font-style:italic;fill:#161616;stroke:#fff;stroke-width:0.23;paint-order:fill;">10п</text>
<text x="0" y="0" transform="matrix(0.2826 0 0 0.2899 1073.59 442.00)" style="font-size:100px;fill:#161616;stroke:#fff;stroke-width:1.61;paint-order:fill;">7</text>
<text x="0" y="0" transform="matrix(0.2609 0 0 0.2360 1259.91 482.28)" style="font-size:100px;fill:#161616;stroke:#fff;stroke-width:0.25;paint-order:fill;">ГПД</text>
<line x1="1150" y1="450" x2="1150" y2="510"/>
<rect x="1138" y="510" width="23" height="39" fill="none"/>
<line x1="1149" y1="518" x2="1149" y2="542" stroke-width="2"/>
<line x1="1150" y1="549" x2="1150" y2="608"/>
<line x1="1132" y1="608" x2="1169" y2="608"/>
<text x="0" y="0" transform="matrix(0.2196 0 0 0.2535 1165.34 535.75)" style="font-size:100px;font-style:italic;fill:#161616;stroke:#fff;stroke-width:0.36;paint-order:fill;">100к</text>
<text x="0" y="0" transform="matrix(0.2879 0 0 0.3636 1168.41 555.00)" style="font-size:100px;fill:#161616;stroke:#fff;stroke-width:4.35;paint-order:fill;">...</text>
<text x="0" y="0" transform="matrix(0.2201 0 0 0.2113 1212.12 555.79)" style="font-size:100px;fill:#161616;stroke:#fff;stroke-width:0.49;paint-order:fill;">330</text>
<text x="0" y="0" transform="matrix(0.2703 0 0 0.2642 1246.11 562.00)" style="font-size:100px;fill:#161616;stroke:#fff;stroke-width:2.56;paint-order:fill;">к</text>
<path d="M922,503 Q940,480 972,474" fill="none" stroke-width="7"/>
<path d="M994,472 Q1025,478 1044,502" fill="none" stroke-width="7"/>
<path d="M928,519 Q982,478 1035,520" fill="none" stroke-width="2.4"/>
<path d="M963,537 Q982,548 1001,537" fill="none" stroke-width="1.5"/>
<polyline points="922,504 886,504 886,616" fill="none"/>
<polyline points="1041,506 1075,506 1075,617" fill="none"/>
<text x="0" y="0" transform="matrix(0.2553 0 0 0.2113 871.98 501.79)" style="font-size:100px;fill:#161616;stroke:#fff;stroke-width:0.80;paint-order:fill;">3</text>
<text x="0" y="0" transform="matrix(0.2766 0 0 0.2394 1066.89 496.76)" style="font-size:100px;fill:#161616;stroke:#fff;stroke-width:1.28;paint-order:fill;">8</text>
<line x1="929" y1="519" x2="929" y2="578"/>
<polygon points="925,576 929,590 933,576" fill="#111" stroke="none"/>
<text x="0" y="0" transform="matrix(0.1961 0 0 0.2319 934.61 560.00)" style="font-size:100px;fill:#161616;">4</text>
<line x1="1034" y1="520" x2="1034" y2="575"/>
<polygon points="1030,573 1034,587 1038,573" fill="#111" stroke="none"/>
<text x="0" y="0" transform="matrix(0.2292 0 0 0.2571 1014.08 561.74)" style="font-size:100px;fill:#161616;stroke:#fff;stroke-width:0.61;paint-order:fill;">5</text>
<circle cx="883" cy="616" r="4.5" fill="#111" stroke="none"/>
<line x1="883" y1="616" x2="943" y2="616"/>
<rect x="943" y="606" width="73" height="21" fill="none"/>
<text x="0" y="0" transform="matrix(0.2207 0 0 0.2143 955.34 624.79)" style="font-size:100px;font-style:italic;fill:#161616;stroke:#fff;stroke-width:0.22;paint-order:fill;">1ком</text>
<line x1="1016" y1="617" x2="1074" y2="617"/>
<circle cx="1074" cy="617" r="5" fill="#111" stroke="none"/>
<line x1="883" y1="616" x2="883" y2="652"/>
<line x1="1074" y1="617" x2="1074" y2="653"/>
<line x1="883" y1="652" x2="914" y2="652"/>
<line x1="914" y1="634" x2="914" y2="671" stroke-width="3"/>
<line x1="922" y1="634" x2="922" y2="671" stroke-width="3"/>
<line x1="922" y1="652" x2="1037" y2="653"/>
<circle cx="978" cy="653" r="5" fill="#111" stroke="none"/>
<line x1="1037" y1="634" x2="1037" y2="674" stroke-width="3"/>
<line x1="1045" y1="634" x2="1045" y2="674" stroke-width="3"/>
<line x1="1045" y1="653" x2="1074" y2="653"/>
<line x1="978" y1="627" x2="978" y2="674"/>
<rect x="971" y="674" width="19" height="51" fill="none"/>
<line x1="980" y1="682" x2="980" y2="716" stroke-width="2.4"/>
<line x1="980" y1="725" x2="980" y2="777"/>
<line x1="956" y1="777" x2="1005" y2="777"/>
<text x="0" y="0" transform="matrix(0.2050 0 0 0.3521 895.39 701.65)" style="font-size:100px;font-style:italic;fill:#161616;stroke:#fff;stroke-width:0.27;paint-order:fill;">10п</text>
<text x="0" y="0" transform="matrix(0.1925 0 0 0.2394 1051.42 689.76)" style="font-size:100px;font-style:italic;fill:#161616;stroke:#161616;stroke-width:0.32;">10п</text>
<text x="0" y="0" transform="matrix(0.2198 0 0 0.3239 993.12 730.68)" style="font-size:100px;fill:#161616;stroke:#fff;stroke-width:0.55;paint-order:fill;">560...1ком</text>
<text x="0" y="0" transform="matrix(0.3509 0 0 0.3857 718.19 741.61)" style="font-size:100px;fill:#161616;stroke:#fff;stroke-width:2.46;paint-order:fill;">U</text>
<text x="0" y="0" transform="matrix(0.2582 0 0 0.2973 745.97 746.05)" style="font-size:100px;fill:#161616;stroke:#fff;stroke-width:2.80;paint-order:fill;">анода</text>
<text x="0" y="0" transform="matrix(0.2652 0 0 0.2545 836.14 741.75)" style="font-size:100px;fill:#161616;stroke:#fff;stroke-width:2.37;paint-order:fill;">max</text>
<text x="0" y="0" transform="matrix(0.2259 0 0 0.2817 889.87 746.72)" style="font-size:100px;fill:#161616;stroke:#fff;stroke-width:2.16;paint-order:fill;">+300v</text>
<text x="0" y="0" transform="matrix(0.2121 0 0 0.2899 713.36 779.00)" style="font-size:100px;font-style:italic;fill:#161616;stroke:#fff;stroke-width:0.43;paint-order:fill;">R</text>
<text x="0" y="0" transform="matrix(0.4054 0 0 0.2264 725.16 779.00)" style="font-size:100px;fill:#161616;stroke:#fff;stroke-width:3.23;paint-order:fill;">к</text>
<text x="0" y="0" transform="matrix(0.2489 0 0 0.2113 750.51 773.79)" style="font-size:100px;font-style:italic;fill:#161616;stroke:#fff;stroke-width:1.01;paint-order:fill;">680...1ком</text>
<text x="0" y="0" transform="matrix(0.3333 0 0 0.6056 763.33 830.39)" style="font-size:100px;fill:#161616;stroke:#fff;stroke-width:3.07;paint-order:fill;">Смеситель</text>
<text x="0" y="0" transform="matrix(0.4071 0 0 0.4638 962.74 831.00)" style="font-size:100px;fill:#161616;stroke:#fff;stroke-width:2.40;paint-order:fill;">ВЧ</text>
<line x1="1028" y1="815" x2="1060" y2="815"/>
<polygon points="1056,811 1068,815 1056,819 1058,815" fill="#111" stroke="none"/>
<text x="0" y="0" transform="matrix(0.3496 0 0 0.4928 1076.20 833.00)" style="font-size:100px;fill:#161616;stroke:#fff;stroke-width:2.55;paint-order:fill;">ПЧ</text>
<line x1="1135" y1="815" x2="1170" y2="815"/>
<polygon points="1167,811 1179,815 1167,819 1169,815" fill="#111" stroke="none"/>
<text x="0" y="0" transform="matrix(0.3171 0 0 0.4638 1186.46 833.00)" style="font-size:100px;fill:#161616;stroke:#fff;stroke-width:1.48;paint-order:fill;">НЧ</text>
<text x="0" y="0" transform="matrix(0.3339 0 0 0.3380 786.50 870.66)" style="font-size:100px;fill:#b0b0b0;stroke:#fff;stroke-width:4.24;paint-order:fill;">Зависит</text>
<text x="0" y="0" transform="matrix(0.3280 0 0 0.2800 934.19 872.72)" style="font-size:100px;fill:#aaaaaa;stroke:#fff;stroke-width:3.69;paint-order:fill;">от</text>
<text x="0" y="0" transform="matrix(0.2538 0 0 0.2306 986.50 869.99)" style="font-size:100px;fill:#7a7a7a;stroke:#fff;stroke-width:1.86;paint-order:fill;">АНОДНОЙ</text>
<text x="0" y="0" transform="matrix(0.3551 0 0 0.3387 1140.51 875.89)" style="font-size:100px;fill:#a8a8a8;stroke:#fff;stroke-width:4.40;paint-order:fill;">нагрузки</text>
<text x="0" y="0" transform="matrix(0.3050 0 0 0.4722 783.56 922.00)" style="font-size:100px;fill:#161616;stroke:#fff;stroke-width:1.84;paint-order:fill;">H i Z</text>
<text x="0" y="0" transform="matrix(0.3263 0 0 0.3208 871.72 919.00)" style="font-size:100px;fill:#161616;stroke:#fff;stroke-width:2.92;paint-order:fill;">вх</text>
<line x1="905" y1="923" x2="917" y2="900" stroke-width="2.4"/>
<text x="0" y="0" transform="matrix(0.2964 0 0 0.3208 917.93 925.60)" style="font-size:100px;fill:#161616;stroke:#fff;stroke-width:2.60;paint-order:fill;">вых</text>
<line x1="1340.5" y1="866" x2="1340.5" y2="954" stroke-width="2"/>
<line x1="1340.5" y1="807" x2="1340.5" y2="846" stroke-width="1.2" stroke-dasharray="3,4" stroke="#999"/>
<line x1="1340.5" y1="274" x2="1340.5" y2="543" stroke-width="1.2" stroke-dasharray="2,8" stroke="#aaa"/>
<line x1="634.5" y1="372" x2="634.5" y2="446" stroke-width="1.2" stroke="#bbb"/>
<line x1="634.5" y1="502" x2="634.5" y2="547" stroke-width="1.2" stroke-dasharray="2,6" stroke="#bbb"/>
<line x1="634.5" y1="696" x2="634.5" y2="712" stroke-width="1.2" stroke-dasharray="2,6" stroke="#bbb"/>
<line x1="1338" y1="0" x2="1338" y2="4" stroke-width="1.5"/>
<line x1="1542.5" y1="27" x2="1542.5" y2="61.5" stroke-width="3.2"/>
<line x1="1542.5" y1="42" x2="1610" y2="42"/>
<line x1="1610" y1="28.5" x2="1610" y2="57" stroke-width="3"/>
<line x1="1617.5" y1="28.5" x2="1617.5" y2="57" stroke-width="3"/>
<line x1="1617.5" y1="43" x2="1700" y2="43.5"/>
<circle cx="1658" cy="43.5" r="5" fill="#111" stroke="none"/>
<path d="M1700,44.4 C1700.0,32.4 1721.5,32.4 1721.5,44.4 C1721.5,32.4 1743.0,32.4 1743.0,44.4 C1743.0,32.4 1764.5,32.4 1764.5,44.4 C1764.5,32.4 1786.0,32.4 1786.0,44.4" fill="none"/>
<line x1="1704" y1="24" x2="1788" y2="24" stroke-width="2.6"/>
<line x1="1704" y1="28.5" x2="1788" y2="28.5" stroke-width="2.2"/>
<line x1="1786" y1="45" x2="1875" y2="46.5"/>
<polyline points="1868,41 1889,46.5 1868,52 1868,41" fill="none" stroke-width="2.2"/>
<text x="0" y="0" transform="matrix(0.2926 0 0 0.3169 1902.54 61.18)" style="font-size:100px;fill:#161616;stroke:#fff;stroke-width:1.71;paint-order:fill;">+250v</text>
<text x="0" y="0" transform="matrix(0.1825 0 0 0.2195 1625.27 33.37)" style="font-size:100px;font-style:italic;fill:#161616;stroke:#161616;stroke-width:1.24;">0,1</text>
<text x="0" y="0" transform="matrix(0.1908 0 0 0.2197 1729.03 61.38)" style="font-size:100px;font-style:italic;fill:#161616;stroke:#fff;stroke-width:0.51;paint-order:fill;">100</text>
<text x="0" y="0" transform="matrix(0.1475 0 0 0.2246 1760.71 68.50)" style="font-size:100px;font-style:italic;fill:#555;stroke:#fff;stroke-width:1.61;paint-order:fill;">мкГн</text>
<line x1="1658" y1="43.5" x2="1658" y2="72" stroke-width="3.4"/>
<rect x="1647.5" y="72" width="19.5" height="43.5" fill="none"/>
<line x1="1651" y1="92" x2="1663" y2="90" stroke-width="2"/>
<line x1="1651" y1="98" x2="1663" y2="96" stroke-width="2"/>
<text x="0" y="0" transform="matrix(0.1898 0 0 0.1831 1672.43 90.82)" style="font-size:100px;font-style:italic;fill:#161616;stroke:#161616;stroke-width:0.89;">10</text>
<text x="0" y="0" transform="matrix(0.2324 0 0 0.1321 1695.37 91.00)" style="font-size:100px;fill:#161616;stroke:#161616;stroke-width:1.54;">к</text>
<line x1="1572.5" y1="96" x2="1572.5" y2="129" stroke-width="3.2"/>
<line x1="1572.5" y1="112.5" x2="1625" y2="112.5"/>
<path d="M1625,112.5 L1626,133 C1628,144 1645,144 1656.5,138 C1667,144 1681,144 1682,133 L1682,114" fill="none" stroke-width="3"/>
<line x1="1682" y1="114" x2="1793" y2="115.5" stroke-dasharray="6,2"/>
<line x1="1656.5" y1="115.5" x2="1656.5" y2="162" stroke-width="3.6"/>
<rect x="1700" y="139.5" width="24" height="9.0" fill="none" stroke-width="2.2"/>
<line x1="1697" y1="151.5" x2="1725.5" y2="129" stroke-width="2.6"/>
<text x="0" y="0" transform="matrix(0.1995 0 0 0.1833 1730.50 149.33)" style="font-size:100px;fill:#161616;stroke:#161616;stroke-width:1.38;">СЦР</text>
<circle cx="1656.5" cy="162" r="5.5" fill="#111" stroke="none"/>
<path d="M1599.5,166.5 C1599.5,153.2 1628.0,153.2 1628.0,166.5 C1628.0,153.2 1656.5,153.2 1656.5,166.5" fill="none"/>
<path d="M1656.5,166.5 C1656.5,153.2 1685.8,156.2 1685.8,169.5 C1685.8,156.2 1715.0,159.2 1715.0,172.5" fill="none"/>
<polyline points="1599.5,166.5 1581.5,166.5 1581.5,246 1626.5,246 1626.5,268.5" fill="none"/>
<polyline points="1715,172.5 1734.5,172.5 1734.5,249 1691,249 1691,270" fill="none"/>
<text x="0" y="0" transform="matrix(0.2039 0 0 0.1739 1606.39 180.00)" style="font-size:100px;font-style:italic;fill:#161616;stroke:#161616;stroke-width:0.47;">Lк</text>
<line x1="1656.5" y1="162" x2="1656.5" y2="190.5" stroke-width="3.6"/>
<line x1="1640" y1="190.5" x2="1673" y2="190.5" stroke-width="2.8"/>
<line x1="1640" y1="198" x2="1673" y2="198" stroke-width="2.8"/>
<line x1="1655.5" y1="198" x2="1655.5" y2="249" stroke-width="4"/>
<line x1="1640" y1="249" x2="1673" y2="249" stroke-width="2.8"/>
<text x="0" y="0" transform="matrix(0.1978 0 0 0.1829 1664.71 188.30)" style="font-size:100px;font-style:italic;fill:#161616;stroke:#161616;stroke-width:1.08;">0,01</text>
<line x1="1581.5" y1="219" x2="1617.5" y2="219"/>
<line x1="1617.5" y1="207" x2="1617.5" y2="232.5" stroke-width="3"/>
<line x1="1622" y1="207" x2="1622" y2="232.5" stroke-width="3"/>
<line x1="1622" y1="219" x2="1692.5" y2="219"/>
<line x1="1692.5" y1="210" x2="1692.5" y2="232.5" stroke-width="3"/>
<line x1="1697" y1="210" x2="1697" y2="232.5" stroke-width="3"/>
<line x1="1697" y1="219" x2="1733.6" y2="219"/>
<circle cx="1581.5" cy="216" r="3.5" fill="#fff" stroke-width="2.4"/>
<circle cx="1655" cy="219" r="5.5" fill="#111" stroke="none"/>
<circle cx="1733.6" cy="219" r="5" fill="#111" stroke="none"/>
<text x="0" y="0" transform="matrix(0.1676 0 0 0.2324 1589.17 242.77)" style="font-size:100px;font-style:italic;fill:#161616;stroke:#161616;stroke-width:1.05;">2Cк</text>
<text x="0" y="0" transform="matrix(0.1720 0 0 0.2113 1704.67 245.79)" style="font-size:100px;font-style:italic;fill:#161616;stroke:#161616;stroke-width:1.06;">2ск</text>
<rect x="1616" y="268.5" width="18" height="39.0" fill="none"/>
<line x1="1618" y1="296" x2="1632" y2="282" stroke-width="2"/>
<line x1="1618" y1="302" x2="1632" y2="288" stroke-width="2"/>
<rect x="1682" y="270" width="19.5" height="42" fill="none"/>
<line x1="1684" y1="299" x2="1699" y2="285" stroke-width="2"/>
<line x1="1684" y1="305" x2="1699" y2="291" stroke-width="2"/>
<text x="0" y="0" transform="matrix(0.2083 0 0 0.1901 1583.88 296.81)" style="font-size:100px;font-style:italic;fill:#161616;stroke:#161616;stroke-width:0.28;">10</text>
<text x="0" y="0" transform="matrix(0.2083 0 0 0.2113 1708.38 299.79)" style="font-size:100px;font-style:italic;fill:#161616;">10</text>
<line x1="1641.5" y1="291.6" x2="1673" y2="291.6"/>
<line x1="1656.5" y1="291.6" x2="1656.5" y2="328"/>
<line x1="1625.6" y1="307.5" x2="1625.6" y2="360"/>
<line x1="1611" y1="360" x2="1646" y2="360"/>
<line x1="1690.4" y1="312" x2="1690.4" y2="361"/>
<line x1="1669.6" y1="361" x2="1705.6" y2="361"/>
<text x="0" y="0" transform="matrix(0.1957 0 0 0.2113 1604.52 329.79)" style="font-size:100px;fill:#161616;stroke:#161616;stroke-width:0.41;">6</text>
<text x="0" y="0" transform="matrix(0.1957 0 0 0.1690 1640.52 320.83)" style="font-size:100px;fill:#161616;stroke:#161616;stroke-width:0.82;">9</text>
<text x="0" y="0" transform="matrix(0.1395 0 0 0.2174 1695.88 333.00)" style="font-size:100px;fill:#161616;stroke:#161616;stroke-width:2.04;">1</text>
<text x="0" y="0" transform="matrix(0.2970 0 0 0.4014 1424.02 208.10)" style="font-size:100px;fill:#161616;stroke:#fff;stroke-width:1.19;paint-order:fill;">6Н23П</text>
<line x1="1410.5" y1="216" x2="1520" y2="216" stroke-width="2.4"/>
<line x1="1812" y1="270" x2="1802" y2="306" stroke-width="2.8"/>
<line x1="1795" y1="306" x2="1812" y2="306" stroke-width="2.4"/>
<text x="0" y="0" transform="matrix(0.3333 0 0 0.3147 1812.17 283.00)" style="font-size:100px;fill:#161616;stroke:#fff;stroke-width:2.01;paint-order:fill;">й</text>
<text x="0" y="0" transform="matrix(0.2698 0 0 0.4507 1839.65 303.55)" style="font-size:100px;fill:#161616;stroke:#fff;stroke-width:1.44;paint-order:fill;">С</text>
<text x="0" y="0" transform="matrix(0.2727 0 0 0.3774 1858.09 304.00)" style="font-size:100px;fill:#161616;stroke:#fff;stroke-width:2.44;paint-order:fill;">м</text>
<text x="0" y="0" transform="matrix(0.3281 0 0 0.4870 1887.38 307.00)" style="font-size:100px;fill:#161616;stroke:#fff;stroke-width:2.27;paint-order:fill;">RX</text>
<line x1="1779.5" y1="316.5" x2="1947.5" y2="316.5" stroke-width="2.2"/>
<line x1="1800.5" y1="87" x2="1871" y2="87"/>
<line x1="1800.5" y1="87" x2="1800.5" y2="109"/>
<line x1="1800.5" y1="122" x2="1800.5" y2="148.5"/>
<line x1="1871" y1="87" x2="1871" y2="112"/>
<line x1="1871" y1="125" x2="1871" y2="148.5"/>
<line x1="1800.5" y1="148.5" x2="1871" y2="148.5"/>
<circle cx="1799" cy="115.5" r="5.5" fill="#fff" stroke-width="2.2"/>
<circle cx="1871" cy="118.5" r="5.5" fill="#fff" stroke-width="2.2"/>
<text x="0" y="0" transform="matrix(0.3077 0 0 0.2826 1816.04 115.50)" style="font-size:100px;fill:#161616;stroke:#fff;stroke-width:1.92;paint-order:fill;">КФ</text>
<text x="0" y="0" transform="matrix(0.1957 0 0 0.1986 1820.02 142.40)" style="font-size:100px;fill:#161616;stroke:#161616;stroke-width:0.51;">9</text>
<text x="0" y="0" transform="matrix(0.1988 0 0 0.1348 1834.61 143.30)" style="font-size:100px;fill:#161616;stroke:#161616;stroke-width:2.91;">мГц</text>
<circle cx="1836.5" cy="150" r="4.5" fill="#111" stroke="none"/>
<line x1="1836.5" y1="150" x2="1836.5" y2="198"/>
<line x1="1817" y1="198" x2="1853" y2="198"/>
<line x1="1877" y1="118.5" x2="1935" y2="118.5"/>
<circle cx="1899.5" cy="118.5" r="4.5" fill="#111" stroke="none"/>
<polyline points="1931,113 1952,118.5 1931,124 1931,113" fill="none" stroke-width="2.2"/>
<line x1="1899.5" y1="118.5" x2="1899.5" y2="151.5"/>
<rect x="1892" y="151.5" width="15" height="22.5" fill="none"/>
<line x1="1899.5" y1="174" x2="1899.5" y2="202.5"/>
<line x1="1878.5" y1="202.5" x2="1913" y2="202.5" stroke-width="3.6"/>
<text x="0" y="0" transform="matrix(0.1758 0 0 0.2899 1864.87 181.00)" style="font-size:100px;font-style:italic;fill:#161616;stroke:#fff;stroke-width:0.44;paint-order:fill;">R</text>
<text x="0" y="0" transform="matrix(0.1429 0 0 0.1348 1876.86 187.00)" style="font-size:100px;fill:#161616;stroke:#161616;stroke-width:3.08;">F</text>
<text x="0" y="0" transform="matrix(0.2096 0 0 0.2609 1939.37 154.50)" style="font-size:100px;font-style:italic;fill:#161616;stroke:#fff;stroke-width:0.28;paint-order:fill;">ПЧ</text>
<text x="0" y="0" transform="matrix(0.2413 0 0 0.2873 1916.29 183.71)" style="font-size:100px;fill:#161616;stroke:#fff;stroke-width:0.88;paint-order:fill;">9</text>
<text x="0" y="0" transform="matrix(0.2222 0 0 0.2753 1930.44 184.99)" style="font-size:100px;fill:#161616;stroke:#fff;stroke-width:0.41;paint-order:fill;">мГц</text>
<text x="0" y="0" transform="matrix(0.2128 0 0 0.2637 1923.71 217.96)" style="font-size:100px;font-style:italic;fill:#161616;stroke:#161616;stroke-width:0.75;">2,5кГц</text>
<circle cx="1656" cy="407" r="79" fill="none" stroke-width="2.2"/>
<path d="M1607,343 Q1615,336 1626,332" fill="none" stroke-width="4"/>
<line x1="1656" y1="292.5" x2="1656" y2="454.5" stroke-dasharray="12,7"/>
<line x1="1577" y1="399" x2="1735" y2="404" stroke-dasharray="12,7"/>
<text x="0" y="0" transform="matrix(0.1739 0 0 0.1812 1563.13 395.00)" style="font-size:100px;fill:#161616;stroke:#161616;stroke-width:1.19;">7</text>
<text x="0" y="0" transform="matrix(0.2174 0 0 0.1857 1733.91 403.00)" style="font-size:100px;fill:#161616;">2</text>
<rect x="1488.5" y="389" width="51.5" height="18" fill="none"/>
<line x1="1506" y1="402" x2="1512" y2="395" stroke-width="2"/>
<line x1="1512" y1="402" x2="1518" y2="395" stroke-width="2"/>
<line x1="1540" y1="399" x2="1577" y2="399"/>
<text x="0" y="0" transform="matrix(0.1481 0 0 0.1268 1504.56 380.87)" style="font-size:100px;font-style:italic;fill:#161616;stroke:#161616;stroke-width:3.14;">10</text>
<polyline points="1488.5,399 1474,399 1474,353 1410,353 1410,374.6" fill="none"/>
<circle cx="1450" cy="354" r="4.5" fill="#111" stroke="none"/>
<rect x="1493" y="436.5" width="47" height="19.100000000000023" fill="none"/>
<line x1="1508" y1="451" x2="1516" y2="441" stroke-width="2"/>
<line x1="1514" y1="451" x2="1522" y2="441" stroke-width="2"/>
<line x1="1540" y1="444" x2="1585" y2="444"/>
<text x="0" y="0" transform="matrix(0.1574 0 0 0.1408 1501.53 470.86)" style="font-size:100px;font-style:italic;fill:#161616;stroke:#161616;stroke-width:2.45;">10</text>
<polyline points="1493,444 1474,444 1474,509 1410,509 1410,481.5" fill="none"/>
<circle cx="1452.5" cy="508.5" r="5" fill="#111" stroke="none"/>
<line x1="1452" y1="354" x2="1452" y2="403" stroke-dasharray="4,3"/>
<rect x="1444.6" y="403" width="15.400000000000091" height="40" fill="none"/>
<line x1="1448" y1="432" x2="1456" y2="418" stroke-width="2"/>
<line x1="1449" y1="437" x2="1457" y2="423" stroke-width="2"/>
<line x1="1452" y1="443" x2="1452" y2="508.5"/>
<text x="0" y="0" transform="matrix(0.2034 0 0 0.2174 1426.37 404.00)" style="font-size:100px;fill:#161616;stroke:#fff;stroke-width:1.69;paint-order:fill;">R</text>
<text x="0" y="0" transform="matrix(0.2051 0 0 0.2703 1438.00 400.65)" style="font-size:100px;font-weight:bold;fill:#161616;stroke:#fff;stroke-width:1.87;paint-order:fill;">*</text>
<path d="M1410,374.6 C1398.0,374.6 1398.0,401.3 1410,401.3 C1398.0,401.3 1398.0,428.1 1410,428.1 C1398.0,428.1 1398.0,454.8 1410,454.8 C1398.0,454.8 1398.0,481.5 1410,481.5" fill="none"/>
<circle cx="1405" cy="387" r="2" fill="#111" stroke="none"/>
<circle cx="1406" cy="439" r="2" fill="#111" stroke="none"/>
<line x1="1410" y1="427.5" x2="1428" y2="427.5"/>
<line x1="1428" y1="414" x2="1428" y2="444"/>
<line x1="1383" y1="370" x2="1383" y2="489" stroke-width="2.2"/>
<line x1="1390.6" y1="370" x2="1390.6" y2="489" stroke-width="2.2"/>
<path d="M1362.5,409.5 C1374.5,409.5 1374.5,436.5 1362.5,436.5 C1374.5,436.5 1374.5,463.5 1362.5,463.5" fill="none"/>
<circle cx="1365" cy="423" r="2" fill="#111" stroke="none"/>
<line x1="1362.5" y1="344" x2="1362.5" y2="409.5" stroke-width="1.5" stroke-dasharray="2,4"/>
<line x1="1362.5" y1="466" x2="1362.5" y2="535.5" stroke-width="1.5" stroke-dasharray="2,4"/>
<line x1="1351" y1="543" x2="1376" y2="543" stroke-width="1.8"/>
<text x="0" y="0" transform="matrix(0.1975 0 0 0.2361 1357.42 305.00)" style="font-size:100px;fill:#161616;">H i Z</text>
<circle cx="1362.5" cy="324" r="2.5" fill="#fff" stroke-width="2"/>
<rect x="1597.6" y="450" width="46.200000000000045" height="9" fill="none" stroke-width="3"/>
<line x1="1600" y1="454.5" x2="1642" y2="454.5" stroke-width="5" stroke-dasharray="2,1"/>
<path d="M1664,450 L1704.5,453 L1704,463.5 L1664,459 Z" fill="none" stroke-width="3"/>
<line x1="1666" y1="455" x2="1702" y2="458" stroke-width="5" stroke-dasharray="2,1"/>
<path d="M1614.5,474 Q1650,462 1687.7,477" fill="none" stroke-width="5"/>
<line x1="1614.5" y1="474" x2="1614.5" y2="488" stroke-width="3"/>
<line x1="1687.7" y1="477" x2="1687.7" y2="489" stroke-width="3"/>
<text x="0" y="0" transform="matrix(0.1569 0 0 0.2116 1599.69 491.60)" style="font-size:100px;fill:#161616;stroke:#161616;stroke-width:1.44;">4</text>
<text x="0" y="0" transform="matrix(0.1875 0 0 0.2086 1691.25 491.39)" style="font-size:100px;fill:#161616;stroke:#161616;stroke-width:0.60;">5</text>
<polyline points="1603,466 1570.6,466 1569,508.5" fill="none" stroke-dasharray="5,2"/>
<text x="0" y="0" transform="matrix(0.1702 0 0 0.1690 1574.32 461.83)" style="font-size:100px;fill:#161616;stroke:#161616;stroke-width:1.55;">8</text>
<polyline points="1704.5,468 1740.5,468 1738,513" fill="none" stroke-dasharray="5,2"/>
<text x="0" y="0" transform="matrix(0.1915 0 0 0.1606 1721.73 466.84)" style="font-size:100px;fill:#161616;stroke:#161616;stroke-width:1.04;">3</text>
<polyline points="1735,404 1757,404 1757,450.8 1722.5,450" fill="none"/>
<circle cx="1569" cy="508.5" r="5.5" fill="#111" stroke="none"/>
<line x1="1569" y1="508.5" x2="1611" y2="509"/>
<line x1="1611" y1="500.6" x2="1611" y2="523" stroke-width="3"/>
<line x1="1617" y1="500.6" x2="1617" y2="523" stroke-width="3"/>
<line x1="1617" y1="510" x2="1695.5" y2="512"/>
<circle cx="1651.6" cy="512" r="5" fill="#111" stroke="none"/>
<line x1="1695.5" y1="500.6" x2="1695.5" y2="524" stroke-width="3"/>
<line x1="1702" y1="500.6" x2="1702" y2="524" stroke-width="3"/>
<line x1="1702" y1="512" x2="1738" y2="513"/>
<circle cx="1738" cy="513" r="5" fill="#111" stroke="none"/>
<text x="0" y="0" transform="matrix(0.1388 0 0 0.1423 1597.18 536.46)" style="font-size:100px;font-style:italic;fill:#161616;stroke:#161616;stroke-width:3.19;">1000</text>
<text x="0" y="0" transform="matrix(0.1342 0 0 0.1549 1682.60 539.85)" style="font-size:100px;font-style:italic;fill:#161616;stroke:#161616;stroke-width:3.15;">1000</text>
<line x1="1651.6" y1="512" x2="1651.6" y2="561" stroke-width="3"/>
<circle cx="1651.6" cy="565" r="3" fill="#fff" stroke-width="2.2"/>
<text x="0" y="0" transform="matrix(0.2281 0 0 0.2571 1615.18 589.74)" style="font-size:100px;fill:#161616;stroke:#fff;stroke-width:0.59;paint-order:fill;">U</text>
<text x="0" y="0" transform="matrix(0.2979 0 0 0.2055 1628.91 590.89)" style="font-size:100px;fill:#161616;stroke:#fff;stroke-width:1.32;paint-order:fill;">гпд</text>
<line x1="1569" y1="508.5" x2="1569" y2="540" stroke-dasharray="4,3"/>
<rect x="1559" y="540" width="20" height="46" fill="none"/>
<line x1="1569" y1="548" x2="1569" y2="578" stroke-width="2.4"/>
<polyline points="1569,586 1569,637.5 1619,637.5" fill="none"/>
<line x1="1738" y1="513" x2="1738" y2="537.5" stroke-dasharray="4,3"/>
<rect x="1727.5" y="537.5" width="22.5" height="38.5" fill="none"/>
<line x1="1738" y1="545" x2="1738" y2="570" stroke-width="2.4"/>
<polyline points="1737.5,576 1739,641 1670,641" fill="none" stroke-dasharray="6,2"/>
<rect x="1619" y="630" width="51" height="22.5" fill="none"/>
<line x1="1644.5" y1="652.5" x2="1644.5" y2="710"/>
<line x1="1622.5" y1="710" x2="1667.5" y2="710"/>
<text x="0" y="0" transform="matrix(0.1606 0 0 0.2324 1527.34 602.27)" style="font-size:100px;font-style:italic;fill:#444;stroke:#444;stroke-width:1.27;">470</text>
<text x="0" y="0" transform="matrix(0.1364 0 0 0.2113 1707.36 599.79)" style="font-size:100px;font-style:italic;fill:#444;stroke:#444;stroke-width:2.34;">470</text>
<text x="0" y="0" transform="matrix(0.1667 0 0 0.2113 1587.33 669.79)" style="font-size:100px;font-style:italic;fill:#161616;stroke:#161616;stroke-width:1.23;">470</text>
<circle cx="1666.5" cy="671" r="8" fill="none" stroke-width="3.4"/>
<line x1="1658" y1="680" x2="1676" y2="662" stroke-width="3"/>
<text x="0" y="0" transform="matrix(0.1700 0 0 0.2113 1683.64 687.29)" style="font-size:100px;fill:#161616;stroke:#161616;stroke-width:1.12;">БАЛАНС</text>
<line x1="1821" y1="365.6" x2="1821" y2="397.5"/>
<path d="M1821,378 L1860,378 C1866,386 1866,394 1875,394 C1885,394 1890,388 1892,385 C1890,394 1897,398 1903,395 C1910,392 1910,382 1901,382 L1909,381" fill="none" stroke-width="2.6"/>
<circle cx="1901" cy="387" r="2.5" fill="#fff" stroke-width="1.5"/>
<line x1="1909" y1="381" x2="1975" y2="382"/>
<polygon points="1969,375.5 1947,382 1969,388.5 1965,382" fill="#111" stroke="none"/>
<path d="M1978,377 A5,6 0 1,1 1978,388" fill="none" stroke-width="2"/>
<text x="0" y="0" transform="matrix(0.1770 0 0 0.2174 1978.58 375.00)" style="font-size:100px;fill:#161616;stroke:#161616;stroke-width:0.77;">ВЧ</text>
<line x1="1834" y1="396" x2="1936" y2="399.4" stroke-width="2.4"/>
<line x1="1838" y1="402.7" x2="1937.7" y2="406" stroke-width="2.4"/>
<path d="M1836,421 C1836.0,409.0 1861.0,410.0 1861.0,422.0 C1861.0,410.0 1886.0,411.0 1886.0,423.0 C1886.0,411.0 1911.0,412.0 1911.0,424.0 C1911.0,412.0 1936.0,413.0 1936.0,425.0" fill="none"/>
<circle cx="1887" cy="421.5" r="4.5" fill="#111" stroke="none"/>
<circle cx="1872.6" cy="421" r="2" fill="#fff" stroke-width="1.5"/>
<circle cx="1922.7" cy="424" r="2" fill="#111" stroke="none"/>
<polyline points="1836,421 1785.5,421 1783.6,467.7" fill="none" stroke-dasharray="6,2"/>
<polyline points="1936,425 1991,425 1989.7,473" fill="none" stroke-dasharray="6,2"/>
<line x1="1886" y1="421.5" x2="1886" y2="443"/>
<line x1="1872" y1="443" x2="1900" y2="443"/>
<line x1="1784" y1="468" x2="1870.7" y2="468"/>
<polyline points="1888,463 1870.7,463 1870.7,482.6 1888,482.6" fill="none"/>
<polyline points="1898,463 1913,463 1913,484.6 1898,484.6" fill="none"/>
<line x1="1878" y1="456" x2="1913" y2="456"/>
<line x1="1894" y1="456" x2="1894" y2="500"/>
<line x1="1913" y1="472" x2="1990" y2="473"/>
<circle cx="1783.6" cy="467.7" r="5" fill="#111" stroke="none"/>
<circle cx="1990" cy="473" r="5" fill="#111" stroke="none"/>
<text x="0" y="0" transform="matrix(0.1476 0 0 0.1648 1919.56 490.24)" style="font-size:100px;font-style:italic;fill:#161616;stroke:#161616;stroke-width:2.41;">10ск</text>
<line x1="1784" y1="472" x2="1784" y2="504"/>
<rect x="1773.8" y="504" width="16.90000000000009" height="28" fill="none"/>
<line x1="1777" y1="526" x2="1787" y2="512" stroke-width="2"/>
<line x1="1779" y1="529" x2="1789" y2="515" stroke-width="2"/>
<text x="0" y="0" transform="matrix(0.1481 0 0 0.1408 1794.56 519.86)" style="font-size:100px;font-style:italic;fill:#161616;stroke:#161616;stroke-width:2.81;">10</text>
<line x1="1990" y1="473" x2="1988" y2="490" stroke-dasharray="3,3"/>
<rect x="1979" y="490" width="17" height="31.600000000000023" fill="none" stroke-dasharray="4,2"/>
<line x1="1981" y1="514" x2="1994" y2="500" stroke-width="2"/>
<line x1="1981" y1="519" x2="1994" y2="505" stroke-width="2"/>
<text x="0" y="0" transform="matrix(0.1324 0 0 0.1211 1958.10 513.88)" style="font-size:100px;font-style:italic;fill:#161616;stroke:#161616;stroke-width:4.02;">10</text>
<line x1="1987.5" y1="521.6" x2="1985" y2="574" stroke-dasharray="3,3"/>
<path d="M1864,504 A80.5,80 0 0,1 1971,579 A80.5,80 0 0,1 1810,579" fill="none" stroke-width="2.4"/>
<path d="M1810,579 A80.5,80 0 0,1 1864,504" fill="none" stroke-width="1.4" stroke-dasharray="3,3"/>
<line x1="1892.5" y1="500" x2="1892.5" y2="637" stroke-dasharray="12,7"/>
<line x1="1782" y1="567.5" x2="1986" y2="574" stroke-dasharray="12,7"/>
<line x1="1864.8" y1="490" x2="1864.8" y2="524" stroke-width="3.2"/>
<line x1="1848.6" y1="524" x2="1877.8" y2="524" stroke-width="3"/>
<line x1="1922" y1="493" x2="1922" y2="526" stroke-width="2.4"/>
<line x1="1907" y1="526" x2="1938.3" y2="526" stroke-width="3"/>
<text x="0" y="0" transform="matrix(0.1571 0 0 0.1690 1847.06 501.83)" style="font-size:100px;font-style:italic;fill:#161616;stroke:#161616;stroke-width:1.99;">6</text>
<text x="0" y="0" transform="matrix(0.1740 0 0 0.1408 1874.30 497.86)" style="font-size:100px;font-style:italic;fill:#161616;stroke:#161616;stroke-width:1.88;">9</text>
<text x="0" y="0" transform="matrix(0.1860 0 0 0.1884 1929.51 506.00)" style="font-size:100px;fill:#161616;stroke:#161616;stroke-width:0.77;">1</text>
<circle cx="1781.75" cy="567" r="5" fill="#111" stroke="none"/>
<text x="0" y="0" transform="matrix(0.2128 0 0 0.1549 1794.15 564.85)" style="font-size:100px;fill:#161616;stroke:#161616;stroke-width:0.59;">3</text>
<line x1="1782" y1="532" x2="1782" y2="584"/>
<line x1="1765" y1="584" x2="1794" y2="584" stroke-width="2.6"/>
<line x1="1765" y1="591" x2="1794" y2="591" stroke-width="2.6"/>
<line x1="1780" y1="591" x2="1779" y2="622"/>
<circle cx="1779" cy="622" r="4.5" fill="#111" stroke="none"/>
<line x1="1779" y1="622" x2="1820" y2="621"/>
<text x="0" y="0" transform="matrix(0.1743 0 0 0.1758 1751.17 611.31)" style="font-size:100px;font-style:italic;fill:#161616;stroke:#161616;stroke-width:2.24;">2р</text>
<line x1="1779" y1="622" x2="1779" y2="700" stroke-dasharray="4,3"/>
<polygon points="1775,698.5 1779,712.5 1783,698.5" fill="#111" stroke="none"/>
<text x="0" y="0" transform="matrix(0.1800 0 0 0.3056 1749.56 747.00)" style="font-size:100px;fill:#161616;stroke:#fff;stroke-width:1.62;paint-order:fill;">H i Z</text>
<text x="0" y="0" transform="matrix(0.5000 0 0 0.8000 1696.00 788.20)" style="font-size:100px;fill:#161616;stroke:#fff;stroke-width:5.50;paint-order:fill;">~</text>
<text x="0" y="0" transform="matrix(0.2174 0 0 0.2247 1737.26 775.51)" style="font-size:100px;fill:#333;stroke:#fff;stroke-width:2.06;paint-order:fill;">ГПД</text>
<rect x="1835" y="620" width="50" height="10" fill="none" stroke-width="3"/>
<line x1="1837" y1="625" x2="1883" y2="625" stroke-width="4" stroke-dasharray="2,1"/>
<path d="M1895,620 L1947.5,624 L1947.5,635 L1895,630 Z" fill="none" stroke-width="2.2"/>
<polyline points="1836,635 1814,635 1814,668.75" fill="none"/>
<text x="0" y="0" transform="matrix(0.1923 0 0 0.2113 1793.42 652.29)" style="font-size:100px;font-style:italic;fill:#161616;stroke:#161616;stroke-width:0.50;">8</text>
<polyline points="1946,636 1962.5,636 1961,670" fill="none"/>
<text x="0" y="0" transform="matrix(0.2128 0 0 0.1901 1969.15 650.81)" style="font-size:100px;fill:#161616;">3</text>
<circle cx="1814" cy="668.75" r="4.5" fill="#111" stroke="none"/>
<line x1="1814" y1="669" x2="1840" y2="669"/>
<line x1="1840" y1="655" x2="1840" y2="685" stroke-width="3"/>
<line x1="1846" y1="655" x2="1846" y2="685" stroke-width="3"/>
<line x1="1846" y1="670" x2="1931" y2="670"/>
<circle cx="1888.75" cy="671" r="4.5" fill="#111" stroke="none"/>
<line x1="1931" y1="656" x2="1931" y2="686" stroke-width="3"/>
<line x1="1940" y1="656" x2="1940" y2="686" stroke-width="3"/>
<line x1="1940" y1="670" x2="1961" y2="670"/>
<circle cx="1961" cy="670" r="4.5" fill="#111" stroke="none"/>
<line x1="1888" y1="671" x2="1888" y2="704"/>
<line x1="1875" y1="704" x2="1905" y2="704"/>
<text x="0" y="0" transform="matrix(0.1398 0 0 0.2465 1849.58 697.25)" style="font-size:100px;font-style:italic;fill:#161616;stroke:#161616;stroke-width:1.95;">10п</text>
<text x="0" y="0" transform="matrix(0.1304 0 0 0.2465 1908.61 699.75)" style="font-size:100px;font-style:italic;fill:#161616;stroke:#161616;stroke-width:2.34;">10п</text>
<line x1="1814" y1="669" x2="1814" y2="684"/>
<rect x="1805" y="684" width="17.5" height="36" fill="none"/>
<line x1="1809" y1="711" x2="1819" y2="697" stroke-width="2"/>
<line x1="1810" y1="715" x2="1820" y2="701" stroke-width="2"/>
<polyline points="1814,720 1814,752.5 1867.5,752.5" fill="none"/>
<text x="0" y="0" transform="matrix(0.1646 0 0 0.2324 1827.17 727.27)" style="font-size:100px;fill:#161616;stroke:#161616;stroke-width:1.14;">470</text>
<line x1="1961" y1="670" x2="1961" y2="681"/>
<rect x="1954" y="681" width="16" height="35" fill="none"/>
<line x1="1957" y1="707" x2="1967" y2="693" stroke-width="2"/>
<line x1="1958" y1="711" x2="1968" y2="697" stroke-width="2"/>
<polyline points="1960.5,716 1960.5,755 1906,755" fill="none" stroke-dasharray="6,2"/>
<text x="0" y="0" transform="matrix(0.1801 0 0 0.1761 1965.64 734.82)" style="font-size:100px;fill:#161616;stroke:#161616;stroke-width:1.16;">470</text>
<rect x="1867.5" y="745" width="38.5" height="19" fill="none"/>
<text x="0" y="0" transform="matrix(0.1863 0 0 0.1690 1871.63 760.83)" style="font-size:100px;fill:#161616;stroke:#161616;stroke-width:1.07;">470</text>
<line x1="1887" y1="764" x2="1887" y2="792.5"/>
<line x1="1870" y1="792.5" x2="1906" y2="792.5"/>
<circle cx="1908" cy="776" r="5" fill="none" stroke-width="2.2"/>
<line x1="1902" y1="782" x2="1914" y2="770" stroke-width="2"/>
<text x="0" y="0" transform="matrix(0.2174 0 0 0.1786 1972.91 565.00)" style="font-size:100px;fill:#161616;">2</text>
<circle cx="1985" cy="574" r="4.5" fill="#111" stroke="none"/>
<line x1="1971" y1="589" x2="2000" y2="589"/>
<line x1="1971" y1="595" x2="2000" y2="595"/>
<polyline points="1947.5,627 1987,627 1987,595" fill="none"/>
<text x="0" y="0" transform="matrix(0.2174 0 0 0.2429 1988.91 622.00)" style="font-size:100px;fill:#161616;stroke:#fff;stroke-width:0.31;paint-order:fill;">2</text>
</g>
</svg>
</body></html>
